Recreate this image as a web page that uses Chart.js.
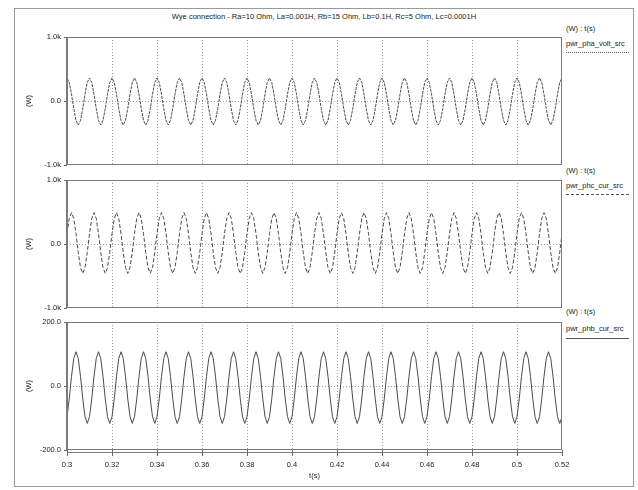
<!DOCTYPE html>
<html>
<head>
<meta charset="utf-8">
<script src="https://cdn.jsdelivr.net/npm/chart.js@4.4.1/dist/chart.umd.min.js"></script>
<style>
  body { margin: 0; background: #fff; width: 638px; height: 490px; position: relative; overflow: hidden;
         font-family: "Liberation Sans", Arial, sans-serif; color: #222; }
  #frame { position: absolute; left: 14px; top: 8px; width: 618px; height: 477px; border: 1px solid #999; }
  #title { position: absolute; left: 14px; width: 620px; top: 12px; text-align: center; font-size: 7.5px; line-height: 9px; }
  .lg { position: absolute; left: 566px; font-size: 7.5px; line-height: 9px; white-space: nowrap; }
  .ln { position: absolute; left: 566px; width: 63px; height: 0; }
  canvas { position: absolute; left: 14px; }
</style>
</head>
<body>
<div id="frame"></div>
<div id="title">Wye connection - Ra=10 Ohm, La=0.001H, Rb=15 Ohm, Lb=0.1H, Rc=5 Ohm, Lc=0.0001H</div>

<div class="lg" style="top:24px">(W) : t(s)</div>
<div class="lg" style="top:39px">pwr_pha_volt_src</div>
<div class="ln" style="top:52px;border-top:1px dotted #555"></div>

<div class="lg" style="top:166px">(W) : t(s)</div>
<div class="lg" style="top:181px">pwr_phc_cur_src</div>
<div class="ln" style="top:194px;border-top:1px dashed #555"></div>

<div class="lg" style="top:307px">(W) : t(s)</div>
<div class="lg" style="top:324px">pwr_phb_cur_src</div>
<div class="ln" style="top:338px;border-top:1px solid #555"></div>

<canvas id="c1" width="580" height="144" style="top:29px"></canvas>
<canvas id="c2" width="580" height="144" style="top:172px"></canvas>
<canvas id="c3" width="580" height="168" style="top:314px"></canvas>

<script>
// --- data ---
const tSec = [
  0.300,0.301,0.302,0.303,0.304,0.305,0.306,0.307,0.308,0.309,
  0.310,0.311,0.312,0.313,0.314,0.315,0.316,0.317,0.318,0.319,
  0.320,0.321,0.322,0.323,0.324,0.325,0.326,0.327,0.328,0.329,
  0.330,0.331,0.332,0.333,0.334,0.335,0.336,0.337,0.338,0.339,
  0.340,0.341,0.342,0.343,0.344,0.345,0.346,0.347,0.348,0.349,
  0.350,0.351,0.352,0.353,0.354,0.355,0.356,0.357,0.358,0.359,
  0.360,0.361,0.362,0.363,0.364,0.365,0.366,0.367,0.368,0.369,
  0.370,0.371,0.372,0.373,0.374,0.375,0.376,0.377,0.378,0.379,
  0.380,0.381,0.382,0.383,0.384,0.385,0.386,0.387,0.388,0.389,
  0.390,0.391,0.392,0.393,0.394,0.395,0.396,0.397,0.398,0.399,
  0.400,0.401,0.402,0.403,0.404,0.405,0.406,0.407,0.408,0.409,
  0.410,0.411,0.412,0.413,0.414,0.415,0.416,0.417,0.418,0.419,
  0.420,0.421,0.422,0.423,0.424,0.425,0.426,0.427,0.428,0.429,
  0.430,0.431,0.432,0.433,0.434,0.435,0.436,0.437,0.438,0.439,
  0.440,0.441,0.442,0.443,0.444,0.445,0.446,0.447,0.448,0.449,
  0.450,0.451,0.452,0.453,0.454,0.455,0.456,0.457,0.458,0.459,
  0.460,0.461,0.462,0.463,0.464,0.465,0.466,0.467,0.468,0.469,
  0.470,0.471,0.472,0.473,0.474,0.475,0.476,0.477,0.478,0.479,
  0.480,0.481,0.482,0.483,0.484,0.485,0.486,0.487,0.488,0.489,
  0.490,0.491,0.492,0.493,0.494,0.495,0.496,0.497,0.498,0.499,
  0.500,0.501,0.502,0.503,0.504,0.505,0.506,0.507,0.508,0.509,
  0.510,0.511,0.512,0.513,0.514,0.515,0.516,0.517,0.518,0.519,
  0.520
];

// pwr_pha_volt_src (W)
const pwrPhaVolt = [
  360,290,106,-120,-304,-374,-304,-120,106,290,
  360,290,106,-120,-304,-374,-304,-120,106,290,
  360,290,106,-120,-304,-374,-304,-120,106,290,
  360,290,106,-120,-304,-374,-304,-120,106,290,
  360,290,106,-120,-304,-374,-304,-120,106,290,
  360,290,106,-120,-304,-374,-304,-120,106,290,
  360,290,106,-120,-304,-374,-304,-120,106,290,
  360,290,106,-120,-304,-374,-304,-120,106,290,
  360,290,106,-120,-304,-374,-304,-120,106,290,
  360,290,106,-120,-304,-374,-304,-120,106,290,
  360,290,106,-120,-304,-374,-304,-120,106,290,
  360,290,106,-120,-304,-374,-304,-120,106,290,
  360,290,106,-120,-304,-374,-304,-120,106,290,
  360,290,106,-120,-304,-374,-304,-120,106,290,
  360,290,106,-120,-304,-374,-304,-120,106,290,
  360,290,106,-120,-304,-374,-304,-120,106,290,
  360,290,106,-120,-304,-374,-304,-120,106,290,
  360,290,106,-120,-304,-374,-304,-120,106,290,
  360,290,106,-120,-304,-374,-304,-120,106,290,
  360,290,106,-120,-304,-374,-304,-120,106,290,
  360,290,106,-120,-304,-374,-304,-120,106,290,
  360,290,106,-120,-304,-374,-304,-120,106,290,
  360
];

// pwr_phc_cur_src (W)
const pwrPhcCur = [
  162,399,490,399,162,-132,-369,-460,-369,-132,
  162,399,490,399,162,-132,-369,-460,-369,-132,
  162,399,490,399,162,-132,-369,-460,-369,-132,
  162,399,490,399,162,-132,-369,-460,-369,-132,
  162,399,490,399,162,-132,-369,-460,-369,-132,
  162,399,490,399,162,-132,-369,-460,-369,-132,
  162,399,490,399,162,-132,-369,-460,-369,-132,
  162,399,490,399,162,-132,-369,-460,-369,-132,
  162,399,490,399,162,-132,-369,-460,-369,-132,
  162,399,490,399,162,-132,-369,-460,-369,-132,
  162,399,490,399,162,-132,-369,-460,-369,-132,
  162,399,490,399,162,-132,-369,-460,-369,-132,
  162,399,490,399,162,-132,-369,-460,-369,-132,
  162,399,490,399,162,-132,-369,-460,-369,-132,
  162,399,490,399,162,-132,-369,-460,-369,-132,
  162,399,490,399,162,-132,-369,-460,-369,-132,
  162,399,490,399,162,-132,-369,-460,-369,-132,
  162,399,490,399,162,-132,-369,-460,-369,-132,
  162,399,490,399,162,-132,-369,-460,-369,-132,
  162,399,490,399,162,-132,-369,-460,-369,-132,
  162,399,490,399,162,-132,-369,-460,-369,-132,
  162,399,490,399,162,-132,-369,-460,-369,-132,
  162
];

// pwr_phb_cur_src (W)
const pwrPhbCur = [
  -96,-40,30,86,107,86,30,-40,-96,-117,
  -96,-40,30,86,107,86,30,-40,-96,-117,
  -96,-40,30,86,107,86,30,-40,-96,-117,
  -96,-40,30,86,107,86,30,-40,-96,-117,
  -96,-40,30,86,107,86,30,-40,-96,-117,
  -96,-40,30,86,107,86,30,-40,-96,-117,
  -96,-40,30,86,107,86,30,-40,-96,-117,
  -96,-40,30,86,107,86,30,-40,-96,-117,
  -96,-40,30,86,107,86,30,-40,-96,-117,
  -96,-40,30,86,107,86,30,-40,-96,-117,
  -96,-40,30,86,107,86,30,-40,-96,-117,
  -96,-40,30,86,107,86,30,-40,-96,-117,
  -96,-40,30,86,107,86,30,-40,-96,-117,
  -96,-40,30,86,107,86,30,-40,-96,-117,
  -96,-40,30,86,107,86,30,-40,-96,-117,
  -96,-40,30,86,107,86,30,-40,-96,-117,
  -96,-40,30,86,107,86,30,-40,-96,-117,
  -96,-40,30,86,107,86,30,-40,-96,-117,
  -96,-40,30,86,107,86,30,-40,-96,-117,
  -96,-40,30,86,107,86,30,-40,-96,-117,
  -96,-40,30,86,107,86,30,-40,-96,-117,
  -96,-40,30,86,107,86,30,-40,-96,-117,
  -96
];

const tMin = 0.3, tMax = 0.52, tStep = 0.02;
const kLabel = v => v === 0 ? '0.0' : (v / 1000).toFixed(1) + 'k';
const wLabel = v => v.toFixed(1);

Chart.defaults.font.family = '"Liberation Sans", Arial, sans-serif';
Chart.defaults.font.size = 7.5;
Chart.defaults.color = '#222';

// frame around each plot area (plus the doubled axis line on the bottom one)
const framePlugin = {
  id: 'frame',
  afterDatasetsDraw(chart, args, opts) {
    const { ctx, chartArea: a } = chart;
    ctx.save();
    ctx.strokeStyle = '#7a7a7a';
    ctx.lineWidth = 1;
    ctx.strokeRect(Math.round(a.left) + 0.5, Math.round(a.top) + 0.5,
                   Math.round(a.right - a.left) - 1, Math.round(a.bottom - a.top) - 1);
    ctx.lineWidth = 2;
    ctx.beginPath();
    ctx.moveTo(Math.round(a.left), a.top);
    ctx.lineTo(Math.round(a.left), a.bottom);
    ctx.stroke();
    if (opts.axisLine) {
      ctx.lineWidth = 1;
      ctx.beginPath();
      ctx.moveTo(a.left, Math.round(a.bottom) + 2.5);
      ctx.lineTo(a.right, Math.round(a.bottom) + 2.5);
      ctx.stroke();
    }
    ctx.restore();
  }
};

function makePanel(id, values, yMax, fmt, dash, isBottom) {
  const pts = tSec.map((t, i) => ({ x: t, y: values[i] }));
  const xScale = {
    type: 'linear', min: tMin, max: tMax,
    border: { display: false, dash: [1, 2] },
    grid: {
      color: c => (c.tick.value > tMin + 1e-6 && c.tick.value < tMax - 1e-6) ? '#a0a0a0' : 'rgba(0,0,0,0)',
      drawTicks: isBottom, tickLength: 6, tickColor: '#666', tickBorderDash: []
    },
    ticks: {
      display: isBottom, stepSize: tStep, padding: 4, maxRotation: 0, autoSkip: false,
      callback: v => String(+v.toFixed(2))
    },
    title: { display: isBottom, text: 't(s)', padding: { top: 0, bottom: 1.5 } }
  };
  if (isBottom) xScale.afterFit = s => { s.height = 32; };
  else xScale.afterFit = s => { s.height = 0; };

  return new Chart(document.getElementById(id), {
    type: 'line',
    data: {
      datasets: [{
        data: pts,
        borderColor: '#4a4a4a',
        borderWidth: 1,
        borderDash: dash,
        pointRadius: 0,
        tension: 0
      }]
    },
    options: {
      responsive: false,
      animation: false,
      events: [],
      layout: { padding: { top: 8, bottom: isBottom ? 0 : 8, left: 0, right: 32 } },
      plugins: { legend: { display: false }, tooltip: { enabled: false }, frame: { axisLine: isBottom } },
      scales: {
        x: xScale,
        y: {
          min: -yMax, max: yMax,
          afterFit: s => { s.width = 53; },
          border: { display: false, dash: [1, 2] },
          grid: {
            color: c => c.tick.value === 0 ? '#a0a0a0' : 'rgba(0,0,0,0)',
            drawTicks: true, tickLength: 3, tickColor: '#666', tickBorderDash: []
          },
          ticks: { stepSize: yMax, padding: 3, callback: fmt },
          title: { display: true, text: '(W)', padding: { top: 10.5, bottom: 0 } }
        }
      }
    },
    plugins: [framePlugin]
  });
}

makePanel('c1', pwrPhaVolt, 1000, kLabel, [3, 1], false);
makePanel('c2', pwrPhcCur, 1000, kLabel, [4, 2], false);
makePanel('c3', pwrPhbCur, 200, wLabel, [], true);
</script>
</body>
</html>
